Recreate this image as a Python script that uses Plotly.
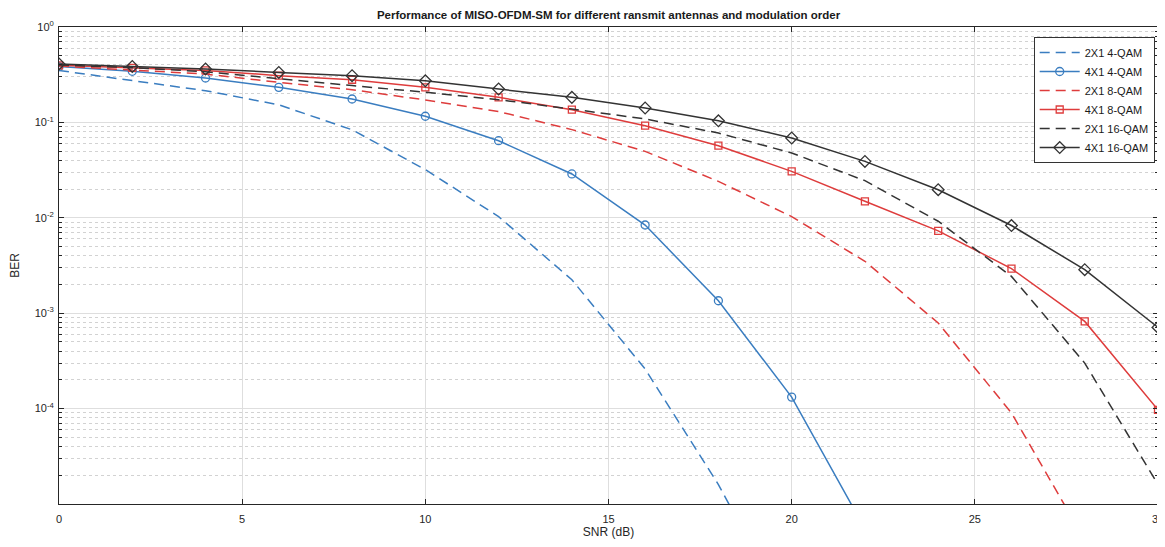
import plotly.graph_objects as go

# ---- data ----
snr = [0, 2, 4, 6, 8, 10, 12, 14, 16, 18, 20, 22, 24, 26, 28, 30]

ber_2x1_4qam = [0.35, 0.274, 0.215, 0.153, 0.0837, 0.032, 0.0103, 2.24e-3, 2.6e-4, 1.6e-5, 6e-7]
ber_4x1_4qam = [0.385, 0.343, 0.292, 0.233, 0.176, 0.116, 0.0643, 0.0288, 0.0084, 1.35e-3, 1.32e-4, 5.5e-6]
ber_2x1_8qam = [0.39, 0.357, 0.321, 0.263, 0.220, 0.172, 0.13, 0.084, 0.0497, 0.0241, 0.0103, 3.5e-3, 7.9e-4, 9.0e-5, 4.2e-6]
ber_4x1_8qam = [0.397, 0.372, 0.351, 0.309, 0.280, 0.233, 0.183, 0.136, 0.0923, 0.057, 0.0307, 0.0149, 7.3e-3, 2.93e-3, 8.2e-4, 9.7e-5]
ber_2x1_16qam = [0.40, 0.375, 0.34, 0.285, 0.243, 0.207, 0.173, 0.138, 0.1086, 0.0774, 0.0478, 0.0245, 9.2e-3, 2.43e-3, 3.0e-4, 1.6e-5]
ber_4x1_16qam = [0.41, 0.386, 0.363, 0.334, 0.309, 0.273, 0.224, 0.183, 0.1416, 0.104, 0.0686, 0.039, 0.0197, 8.3e-3, 2.86e-3, 7.1e-4]

names = ["2X1 4-QAM", "4X1 4-QAM", "2X1 8-QAM", "4X1 8-QAM", "2X1 16-QAM", "4X1 16-QAM"]

x_ticks = [0, 5, 10, 15, 20, 25, 30]
y_tickvals = [1, 1e-1, 1e-2, 1e-3, 1e-4]
y_ticktext = ["10<sup>0</sup>", "10<sup>-1</sup>", "10<sup>-2</sup>", "10<sup>-3</sup>", "10<sup>-4</sup>"]

title_text = "Performance of MISO-OFDM-SM for different ransmit antennas and modulation order"

# ---- styles ----
BLUE = "#3A7DC0"
RED = "#DE3C3C"
BLACK = "#333333"
DASH = "10px,6px"

series = [
    (names[0], ber_2x1_4qam, BLUE, DASH, None),
    (names[1], ber_4x1_4qam, BLUE, "solid", "circle-open"),
    (names[2], ber_2x1_8qam, RED, DASH, None),
    (names[3], ber_4x1_8qam, RED, "solid", "square-open"),
    (names[4], ber_2x1_16qam, BLACK, DASH, None),
    (names[5], ber_4x1_16qam, BLACK, "solid", "diamond-open"),
]

fig = go.Figure()
for name, vals, color, dash, sym in series:
    xs = snr[:len(vals)]
    if sym is None:
        fig.add_trace(go.Scatter(x=xs, y=vals, name=name, mode="lines",
                                 line=dict(color=color, width=1.5, dash=dash)))
    else:
        size = {"circle-open": 8, "square-open": 7, "diamond-open": 9}[sym]
        fig.add_trace(go.Scatter(x=xs, y=vals, name=name, mode="lines+markers",
                                 line=dict(color=color, width=1.5, dash=dash),
                                 marker=dict(symbol=sym, size=size, color=color,
                                             line=dict(color=color, width=1.3))))

minor_vals = [m * 10.0 ** e for e in range(-5, 0) for m in range(2, 10)]

# the page body adds an 8px margin, so the figure is sized to fit inside the window
fig.update_layout(
    width=1157, height=531,
    margin=dict(l=51, r=7, t=19, b=35, autoexpand=False),
    plot_bgcolor="white", paper_bgcolor="white",
    font=dict(family="Liberation Sans, Arial, sans-serif", size=11, color="#262626"),
    title=dict(text="<b>" + title_text + "</b>", x=0.5, xref="paper", xanchor="center",
               y=1 - 7 / 531, yref="container", yanchor="middle", pad=dict(t=0, b=0),
               font=dict(size=11.5, color="#1a1a1a")),
    showlegend=True,
    legend=dict(x=0.997, xanchor="right", y=0.979, yanchor="top",
                bgcolor="white", bordercolor="#333333", borderwidth=1,
                font=dict(size=11, color="#1a1a1a"), tracegroupgap=0,
                itemwidth=40),
)

fig.update_xaxes(
    range=[0, 30], tickvals=x_ticks, ticks="inside", ticklen=5, tickcolor="#262626",
    showline=True, linecolor="#262626", linewidth=1, mirror="ticks",
    showgrid=True, gridcolor="#dedede", gridwidth=1, zeroline=False,
    title=dict(text="SNR (dB)", standoff=6, font=dict(size=12)),
    tickfont=dict(size=11), ticklabelstandoff=5, ticklabeloverflow="allow",
    automargin=False,
)

fig.update_yaxes(
    type="log", range=[-5, 0], tickvals=y_tickvals, ticktext=y_ticktext,
    ticks="inside", ticklen=5, tickcolor="#262626",
    showline=True, linecolor="#262626", linewidth=1, mirror="ticks",
    showgrid=True, gridcolor="#dedede", gridwidth=1, zeroline=False,
    minor=dict(tickvals=minor_vals, ticks="inside", ticklen=3, tickcolor="#262626",
               showgrid=True, gridcolor="#d2d2d2", griddash="dot", gridwidth=1),
    title=dict(text="BER", standoff=20, font=dict(size=12)),
    tickfont=dict(size=11), ticklabelstandoff=2, ticklabeloverflow="allow",
    automargin=False,
)

fig.write_html("out.html")
